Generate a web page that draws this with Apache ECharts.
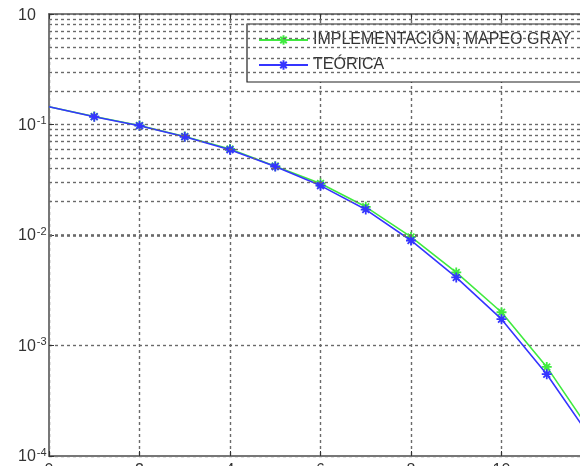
<!DOCTYPE html>
<html>
<head>
<meta charset="utf-8">
<script src="https://cdn.jsdelivr.net/npm/echarts@6/dist/echarts.min.js"></script>
<style>
  html, body { margin: 0; padding: 0; background: #ffffff; }
  #chart { width: 580px; height: 466px; }
</style>
</head>
<body>
<div id="chart"></div>
<script>
// Eb/N0 points (dB)
const ebn0 = [0, 1, 2, 3, 4, 5, 6, 7, 8, 9, 10, 11, 12];
// Bit error rate, Gray-mapped implementation
const implementacion = [0.145, 0.118, 0.098, 0.078, 0.060, 0.042, 0.0292, 0.0180, 0.0096, 0.00458, 0.00200, 0.00064, 0.00016];
// Theoretical bit error rate
const teorica = [0.1445, 0.1175, 0.0975, 0.0775, 0.0591, 0.0416, 0.0280, 0.0170, 0.00892, 0.00413, 0.00173, 0.00055, 0.00014];

const seriesNames = ['IMPLEMENTACIÓN, MAPEO GRAY', 'TEÓRICA'];
const seriesColors = ['#3fea3f', '#3535ff'];

// decades and mantissas of the log grid
const decadeExponents = [-4, -3, -2, -1];
const minorMantissas = [2, 3, 4, 5, 6, 7, 8, 9];

const minorGridValues = [];
decadeExponents.forEach(function (e) {
  minorMantissas.forEach(function (m) {
    minorGridValues.push(m * Math.pow(10, e));
  });
});

const asterisk = 'path://M5,0L5,10M0,5L10,5M1.6,1.6L8.4,8.4M1.6,8.4L8.4,1.6';
const gridColor = '#6a6a6a';
const gridDash = [3, 3];
const gridWidth = 1.4;
const fontFamily = '"Liberation Sans", Arial, sans-serif';

function makeData(values) {
  return ebn0.map(function (x, i) {
    return { value: [x, values[i]], symbolSize: i === 0 ? 0 : 10 };
  });
}

function expLabel(v) {
  const e = Math.round(Math.log10(v));
  if (e === 0) return '{t|10}';
  return '{b|10}{e|' + e + '}';
}

const chart = echarts.init(document.getElementById('chart'), null, { renderer: 'canvas' });

chart.setOption({
  animation: false,
  backgroundColor: '#ffffff',
  grid: {
    left: 49, top: 14, width: 543, height: 442,
    containLabel: false,
    outerBoundsMode: 'none'
  },
  legend: {
    orient: 'vertical',
    left: 247,
    top: 24,
    padding: [8, 10, 9, 11],
    itemWidth: 49,
    itemHeight: 12,
    itemGap: 9,
    backgroundColor: '#ffffff',
    borderColor: '#222222',
    borderWidth: 1.2,
    textStyle: { fontSize: 16, fontFamily: fontFamily, color: '#333333' },
    data: seriesNames
  },
  xAxis: [
    {
      type: 'value',
      min: 0,
      max: 12,
      interval: 2,
      position: 'bottom',
      axisLine: { show: true, lineStyle: { color: '#777777', width: 2 } },
      axisTick: { show: true, inside: true, length: 5, lineStyle: { color: '#333333' } },
      axisLabel: { show: true, margin: 7, fontSize: 16, fontFamily: fontFamily, color: '#333333' },
      splitLine: { show: true, lineStyle: { color: gridColor, type: gridDash, width: gridWidth } }
    },
    {
      type: 'value',
      min: 0,
      max: 12,
      interval: 2,
      position: 'top',
      axisLine: { show: true, onZero: false, lineStyle: { color: '#555555', width: 1.5 } },
      axisTick: { show: true, inside: true, length: 5, lineStyle: { color: '#333333' } },
      axisLabel: { show: false },
      splitLine: { show: false }
    }
  ],
  yAxis: {
    type: 'log',
    logBase: 10,
    min: 1e-4,
    max: 1,
    axisLine: { show: true, lineStyle: { color: '#777777', width: 2 } },
    axisTick: { show: true, inside: true, length: 5, lineStyle: { color: '#333333' } },
    axisLabel: {
      show: true,
      margin: 31,
      align: 'left',
      formatter: expLabel,
      rich: {
        t: { fontSize: 16, fontFamily: fontFamily, color: '#333333', lineHeight: 18, padding: [4, 0, 0, 0] },
        b: { fontSize: 16, fontFamily: fontFamily, color: '#333333', lineHeight: 18, verticalAlign: 'bottom' },
        e: { fontSize: 11, fontFamily: fontFamily, color: '#333333', lineHeight: 10, verticalAlign: 'top', padding: [0, 0, 0, 1] }
      }
    },
    splitLine: { show: true, lineStyle: { color: gridColor, type: gridDash, width: gridWidth } }
  },
  series: [
    {
      name: seriesNames[0],
      type: 'line',
      data: makeData(implementacion),
      symbol: asterisk,
      symbolSize: 10,
      showAllSymbol: true,
      lineStyle: { color: seriesColors[0], width: 1.6 },
      itemStyle: { color: seriesColors[0], borderColor: seriesColors[0], borderWidth: 1.8 },
      markLine: {
        silent: true,
        symbol: 'none',
        animation: false,
        label: { show: false },
        lineStyle: { color: gridColor, type: gridDash, width: gridWidth },
        data: minorGridValues.map(function (v) { return { yAxis: v }; })
      },
      z: 3
    },
    {
      name: seriesNames[1],
      type: 'line',
      data: makeData(teorica),
      symbol: asterisk,
      symbolSize: 10,
      showAllSymbol: true,
      lineStyle: { color: seriesColors[1], width: 1.6 },
      itemStyle: { color: seriesColors[1], borderColor: seriesColors[1], borderWidth: 1.8 },
      z: 4
    }
  ]
});
</script>
</body>
</html>
